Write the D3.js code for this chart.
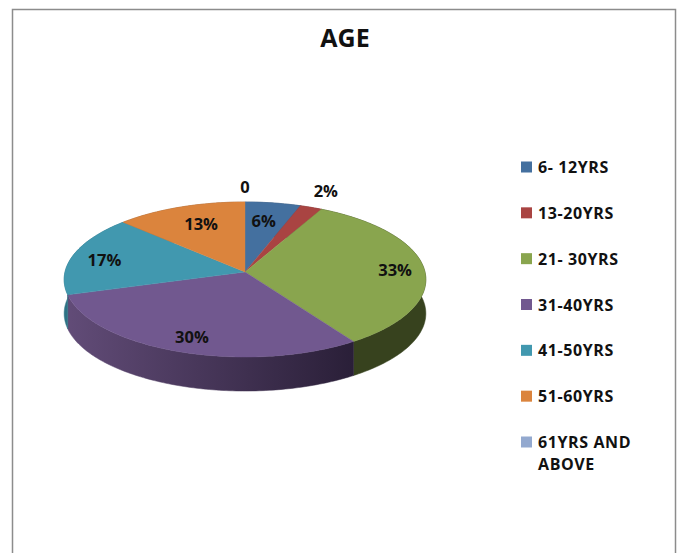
<!DOCTYPE html>
<html><head><meta charset="utf-8">
<script src="https://cdn.jsdelivr.net/npm/d3@7/dist/d3.min.js"></script>
<style>html,body{margin:0;padding:0;background:#fff}svg{display:block}text{font-family:"Open Sans",sans-serif;font-weight:700;fill:#111}</style>
</head><body><svg id="c" width="680" height="553"></svg>
<script>
const title = "AGE";
const categories = ["6- 12YRS","13-20YRS","21- 30YRS","31-40YRS","41-50YRS","51-60YRS","61YRS AND|ABOVE"];
const values = [5.5,2.2,33.4,30,17,13,0];
const valueLabels = ["6%","2%","33%","30%","17%","13%","0"];
const colors = ["#44709f","#a94442","#89a54e","#71588f","#4198af","#db843d","#93a9cf"];
const sideColors = ["#2d4a6b","#6f2d2c","#37421e","url(#purpleSide)","#2d7385","#94582a","#606f88"];

const cx=245, cy=272, R=180, A=76.8, P=0.0968, depth=34;
// radial placement of each value label, with a small nudge
const labelR = [0.72,1.2,0.85,0.85,0.8,0.72,1.2];
const nudge = [[-2,-1],[3,-5],[-2,1],[3,-2],[-3,2],[4,-1],[0,-3]];

const svg=d3.select("#c");
const defs=svg.append("defs");
const g=defs.append("linearGradient").attr("id","purpleSide").attr("gradientUnits","userSpaceOnUse")
  .attr("x1",cx-R).attr("x2",cx+R*0.6).attr("y1",0).attr("y2",0);
g.append("stop").attr("offset",0).attr("stop-color","#624c78");
g.append("stop").attr("offset",1).attr("stop-color","#2a1f38");

svg.append("rect").attr("x",12.5).attr("y",9.5).attr("width",663).attr("height",560)
  .attr("fill","#fff").attr("stroke","#8c8c8c").attr("stroke-width",1.5);

const proj=(theta,r=1)=>{const u=r*Math.sin(theta),v=r*Math.cos(theta),w=1+P*v;
  return [cx+R*u/w, cy-A*v/w];};
const arcs=d3.pie().sort(null).value(d=>d)(values);
const line=d3.line();
const rim=(a)=>{const n=Math.max(2,Math.ceil((a.endAngle-a.startAngle)*60));
  return d3.range(n+1).map(i=>proj(a.startAngle+(a.endAngle-a.startAngle)*i/n));};

// sides
svg.append("g").selectAll("path").data(arcs.filter(a=>a.value>0)).join("path")
  .attr("d",a=>{const r=rim(a);return line(r.concat(r.slice().reverse().map(p=>[p[0],p[1]+depth])))+"Z";})
  .attr("fill",(a,i)=>sideColors[a.index]).attr("stroke",(a,i)=>sideColors[a.index]).attr("stroke-width",0.5);
// tops
svg.append("g").selectAll("path").data(arcs.filter(a=>a.value>0)).join("path")
  .attr("d",a=>line([[cx,cy]].concat(rim(a)))+"Z")
  .attr("fill",a=>colors[a.index]).attr("stroke",a=>colors[a.index]).attr("stroke-width",0.4);
// labels
svg.append("g").selectAll("text").data(arcs).join("text")
  .attr("x",a=>proj((a.startAngle+a.endAngle)/2,labelR[a.index])[0]+nudge[a.index][0])
  .attr("y",a=>proj((a.startAngle+a.endAngle)/2,labelR[a.index])[1]+nudge[a.index][1])
  .attr("text-anchor","middle").attr("dominant-baseline","central").attr("font-size",16.5)
  .text(a=>valueLabels[a.index]);

svg.append("text").attr("x",345).attr("y",37).attr("dominant-baseline","central").attr("text-anchor","middle")
  .attr("font-size",25).text(title);

// legend
const ly=d3.scalePoint().domain(categories).range([167,442]);
const lg=svg.append("g").selectAll("g").data(categories).join("g").attr("transform",d=>`translate(521,${ly(d)})`);
lg.append("rect").attr("x",0).attr("y",-5.5).attr("width",11).attr("height",11).attr("fill",(d,i)=>colors[i]);
lg.each(function(d){const t=d3.select(this);
  d.split("|").forEach((s,i)=>t.append("text").attr("x",17).attr("y",i*22).attr("dominant-baseline","central")
    .attr("font-size",16).attr("letter-spacing",0.6).text(s));});
</script></body></html>
